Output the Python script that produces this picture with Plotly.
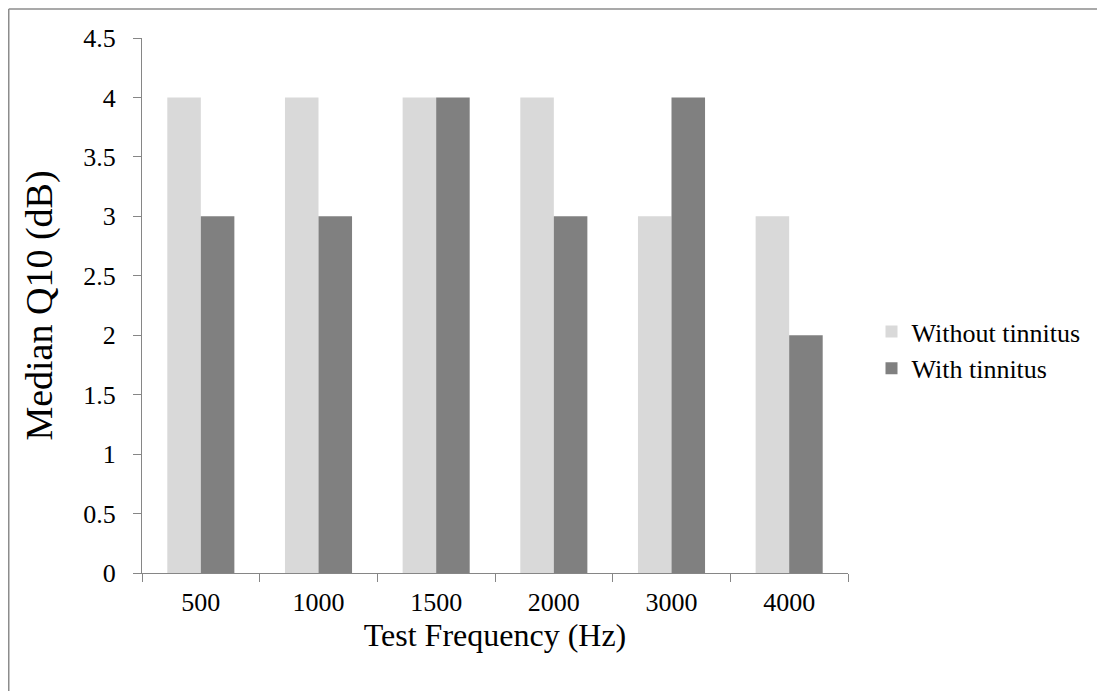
import plotly.graph_objects as go

categories = ["500", "1000", "1500", "2000", "3000", "4000"]
without_tinnitus = [4, 4, 4, 4, 3, 3]
with_tinnitus = [3, 3, 4, 3, 4, 2]
y_ticks = [0, 0.5, 1, 1.5, 2, 2.5, 3, 3.5, 4, 4.5]

# page body has an 8px margin, so the figure is shifted by 8px
OFF = 8
W, H = 1105 - OFF, 691 - OFF
L, R, T, B = 142 - OFF, 848 - OFF, 38 - OFF, 573 - OFF
PW, PH = R - L, B - T

fig = go.Figure()
fig.add_trace(go.Bar(x=categories, y=without_tinnitus, name="Without tinnitus",
                     marker=dict(color="#d9d9d9", line=dict(width=0))))
fig.add_trace(go.Bar(x=categories, y=with_tinnitus, name="With tinnitus",
                     marker=dict(color="#808080", line=dict(width=0))))

axis_color = "#868686"
font_family = "Liberation Serif, Times New Roman, serif"

fig.update_layout(
    width=W, height=H,
    margin=dict(l=L, r=W - R, t=T, b=H - B, pad=0),
    paper_bgcolor="white", plot_bgcolor="white",
    barmode="group", bargap=0.43, bargroupgap=0,
    font=dict(family=font_family, color="black"),
    showlegend=True,
    legend=dict(x=(863.5 - L) / PW, y=(B - 342) / PH, xanchor="left", yanchor="middle",
                font=dict(size=26, family=font_family), tracegroupgap=0,
                itemwidth=30, bgcolor="rgba(0,0,0,0)"),
    xaxis=dict(type="category", showline=True, linecolor=axis_color, linewidth=1,
               ticks="outside", ticklen=8, tickcolor=axis_color, tickson="boundaries",
               showgrid=False, tickfont=dict(size=26, family=font_family),
               ticklabelstandoff=6,
               title=dict(text="Test Frequency (Hz)", font=dict(size=32, family=font_family), standoff=4)),
    yaxis=dict(range=[0, 4.5], tickvals=y_ticks, ticktext=[f"{v:g}" for v in y_ticks],
               showline=True, linecolor=axis_color, linewidth=1,
               ticks="outside", ticklen=8, tickcolor=axis_color, showgrid=False,
               zeroline=False, tickfont=dict(size=26, family=font_family),
               ticklabelstandoff=12,
               title=dict(text="Median Q10 (dB)", font=dict(size=38, family=font_family), standoff=18)),
    shapes=[
        dict(type="line", xref="paper", yref="paper",
             x0=(0.75 - L) / PW, x1=(W - L) / PW,
             y0=(B - 1) / PH, y1=(B - 1) / PH,
             line=dict(color="#8c8c8c", width=1.5)),
        dict(type="line", xref="paper", yref="paper",
             x0=(0.75 - L) / PW, x1=(0.75 - L) / PW,
             y0=(B - 1) / PH, y1=(B - H) / PH,
             line=dict(color="#8c8c8c", width=1.5)),
    ],
)

fig.write_html("out.html")
